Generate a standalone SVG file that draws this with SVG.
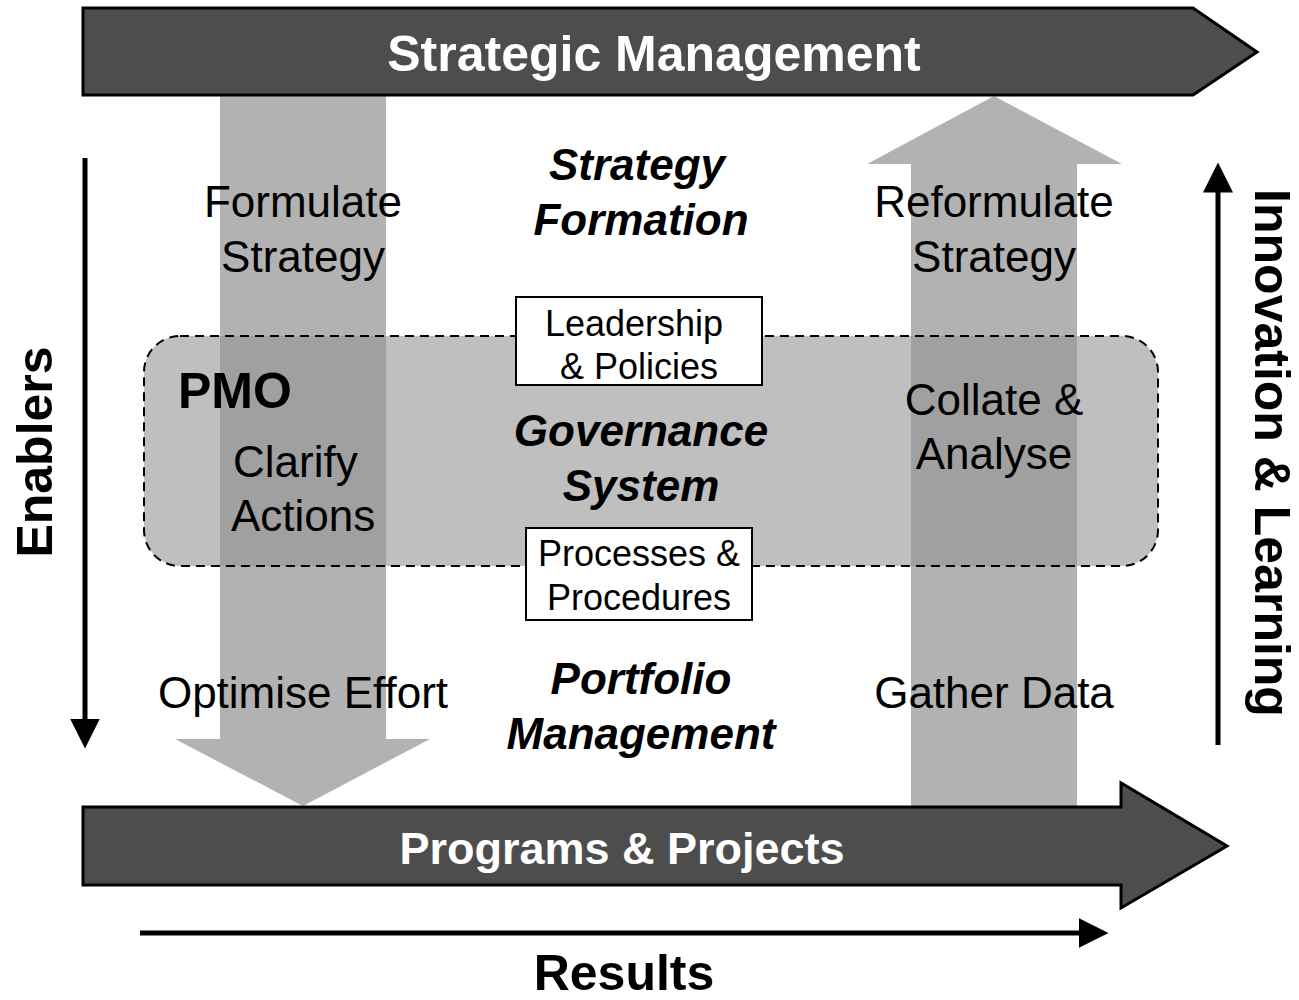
<svg xmlns="http://www.w3.org/2000/svg" width="1299" height="1000" viewBox="0 0 1299 1000">
<style>
.banner{fill:#4d4d4d;stroke:#000;stroke-width:3;stroke-linejoin:miter}
.flow{fill:#b2b2b2}
.t{font-family:"Liberation Sans",Arial,sans-serif;fill:#000}
.r44{font-size:44px}
.bi44{font-size:44px;font-weight:bold;font-style:italic}
.r36{font-size:36px}
.wb{fill:#fff;font-weight:bold}
.b50{font-size:50px;font-weight:bold}
.box{fill:#fff;stroke:#000;stroke-width:2}
.line{stroke:#000;stroke-width:5;fill:none}
</style>
<defs>
<marker id="ah" viewBox="0 0 10 10" refX="0.5" refY="5" markerWidth="6" markerHeight="6.4" markerUnits="strokeWidth" orient="auto">
<path d="M0,0 L10,5 L0,10 Z" fill="#000"/>
</marker>
</defs>

<g id="flow-down">
<polygon class="flow" points="220,95 386,95 386,739 430,739 303,806 175,739 220,739"/>
</g>
<g id="flow-up">
<polygon class="flow" points="911,806 911,164 867,164 994,96 1122,164 1077,164 1077,806"/>
</g>

<g id="strategic-management">
<polygon class="banner" points="83,8 1193,8 1257,52 1193,95 83,95"/>
<text class="t wb" x="654" y="71" font-size="50" text-anchor="middle">Strategic Management</text>
</g>

<g id="programs-projects">
<polygon class="banner" points="83,807 1121,807 1121,783 1227,846 1121,908 1121,885 83,885"/>
<text class="t wb" x="622" y="864" font-size="45" text-anchor="middle">Programs &amp; Projects</text>
</g>

<g id="pmo">
<rect x="144" y="336" width="1014" height="230" rx="36" ry="36" fill="#949494" fill-opacity="0.6" stroke="#000" stroke-width="2" stroke-dasharray="9,6"/>
<text class="t b50" x="178" y="408" font-size="48">PMO</text>
</g>

<g id="connectors">
<line class="line" x1="85" y1="158" x2="85" y2="720" marker-end="url(#ah)"/>
<line class="line" x1="1218" y1="745" x2="1218" y2="191" marker-end="url(#ah)"/>
<line class="line" x1="140" y1="933" x2="1080" y2="933" marker-end="url(#ah)"/>
</g>

<g id="formulate">
<text class="t r44" x="303" y="217" text-anchor="middle">Formulate</text>
<text class="t r44" x="303" y="272" text-anchor="middle">Strategy</text>
</g>
<g id="strategy-formation">
<text class="t bi44" x="637" y="180" text-anchor="middle">Strategy</text>
<text class="t bi44" x="641" y="235" text-anchor="middle">Formation</text>
</g>
<g id="reformulate">
<text class="t r44" x="994" y="217" text-anchor="middle">Reformulate</text>
<text class="t r44" x="994" y="272" text-anchor="middle">Strategy</text>
</g>

<g id="clarify">
<text class="t r44" x="233" y="477">Clarify</text>
<text class="t r44" x="231" y="531">Actions</text>
</g>
<g id="governance">
<text class="t bi44" x="641" y="446" text-anchor="middle">Governance</text>
<text class="t bi44" x="641" y="501" text-anchor="middle">System</text>
</g>
<g id="collate">
<text class="t r44" x="994" y="415" text-anchor="middle">Collate &amp;</text>
<text class="t r44" x="994" y="469" text-anchor="middle">Analyse</text>
</g>

<g id="leadership">
<rect class="box" x="516" y="297" width="246" height="88"/>
<text class="t r36" x="634" y="336" text-anchor="middle">Leadership</text>
<text class="t r36" x="639" y="379" text-anchor="middle">&amp; Policies</text>
</g>
<g id="processes">
<rect class="box" x="526" y="528" width="226" height="92"/>
<text class="t r36" x="639" y="566" text-anchor="middle">Processes &amp;</text>
<text class="t r36" x="639" y="610" text-anchor="middle">Procedures</text>
</g>

<g id="optimise">
<text class="t r44" x="303" y="708" text-anchor="middle">Optimise Effort</text>
</g>
<g id="portfolio">
<text class="t bi44" x="641" y="694" text-anchor="middle">Portfolio</text>
<text class="t bi44" x="641" y="749" text-anchor="middle">Management</text>
</g>
<g id="gather">
<text class="t r44" x="994" y="708" text-anchor="middle">Gather Data</text>
</g>

<g id="enablers">
<text class="t b50" transform="translate(52,452) rotate(-90)" text-anchor="middle">Enablers</text>
</g>
<g id="innovation">
<text class="t b50" transform="translate(1255,453) rotate(90)" font-size="49" text-anchor="middle">Innovation &amp; Learning</text>
</g>
<g id="results">
<text class="t b50" x="624" y="990" font-size="48" text-anchor="middle">Results</text>
</g>
</svg>
